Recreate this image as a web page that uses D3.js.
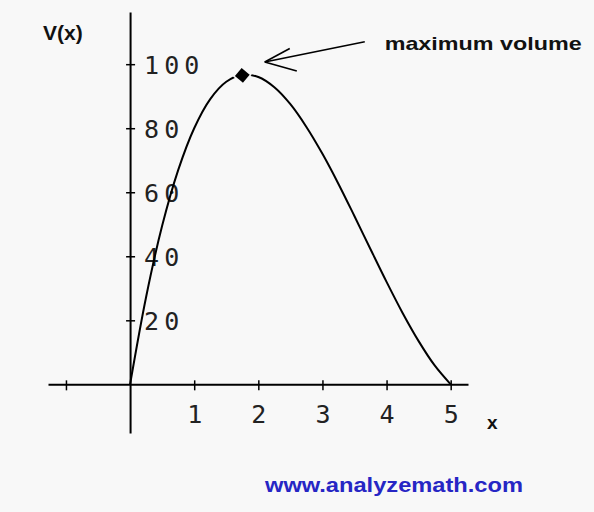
<!DOCTYPE html>
<html>
<head>
<meta charset="utf-8">
<script src="https://cdn.jsdelivr.net/npm/d3@7"></script>
<style>
  html, body { margin: 0; padding: 0; background: #f8f8f8; }
  svg { display: block; }
</style>
</head>
<body>
<svg id="chart" width="594" height="512"></svg>
<script>
// ---- data ----
const xValues = [0, 0.25, 0.5, 0.75, 1, 1.25, 1.5, 1.75, 2, 2.25, 2.5, 2.75, 3, 3.25, 3.5, 3.75, 4, 4.25, 4.5, 4.75, 5];
const vValues = [0, 27.3, 49.5, 66.9, 80, 89.1, 94.5, 96.7, 96, 92.8, 87.5, 80.4, 72, 62.6, 52.5, 42.2, 32, 22.3, 13.5, 5.9, 0];
const maxPoint = [1.75, 96.5];
const xTicks = [-1, 1, 2, 3, 4, 5];
const xTickLabels = ["", "1", "2", "3", "4", "5"];
const yTicks = [20, 40, 60, 80, 100];
const yTickLabels = ["20", "40", "60", "80", "100"];
const xAxisLabel = "x";
const yAxisLabel = "V(x)";
const annotationText = "maximum volume";
const sourceText = "www.analyzemath.com";

// ---- layout ----
const svg = d3.select("#chart");
const x = d3.scaleLinear().domain([-1.28, 5.27]).range([48, 468]);
const y = d3.scaleLinear().domain([-15.2, 116.3]).range([433, 12]);
const x0 = x(0), y0 = y(0);

// x axis
const gx = svg.append("g").attr("transform", `translate(0,${y0})`)
  .call(d3.axisBottom(x).tickValues(xTicks).tickSizeInner(6).tickSizeOuter(0)
    .tickFormat((d, i) => xTickLabels[i]));
gx.select(".domain").attr("stroke", "#000").attr("stroke-width", 2);
gx.selectAll(".tick line").attr("y1", -4).attr("y2", 6).attr("stroke", "#000").attr("stroke-width", 1.5);
gx.selectAll(".tick text")
  .attr("y", 21).attr("dy", "0.71em")
  .attr("font-family", "DejaVu Sans Mono").attr("font-size", 25).attr("fill", "#222");

// y axis
const gy = svg.append("g").attr("transform", `translate(${x0},0)`)
  .call(d3.axisLeft(y).tickValues(yTicks).tickSizeInner(4).tickSizeOuter(0)
    .tickFormat((d, i) => yTickLabels[i]));
gy.select(".domain").attr("stroke", "#000").attr("stroke-width", 2);
gy.selectAll(".tick line").attr("x1", -4).attr("x2", 5).attr("stroke", "#000").attr("stroke-width", 1.5);
gy.selectAll(".tick text")
  .attr("x", 14).attr("dy", "0.36em").attr("text-anchor", "start")
  .attr("font-family", "DejaVu Sans Mono").attr("font-size", 25)
  .attr("letter-spacing", 5).attr("fill", "#222");

// curve
const pts = xValues.map((d, i) => [d, vValues[i]]);
svg.append("path")
  .datum(pts)
  .attr("fill", "none").attr("stroke", "#000").attr("stroke-width", 2)
  .attr("d", d3.line().x(d => x(d[0])).y(d => y(d[1])).curve(d3.curveCatmullRom));

// max marker
svg.append("path")
  .attr("d", d3.symbol().type(d3.symbolSquare).size(110)())
  .attr("transform", `translate(${x(maxPoint[0])},${y(maxPoint[1])}) rotate(40)`)
  .attr("fill", "#000").attr("stroke", "#f8f8f8").attr("stroke-width", 3)
  .attr("paint-order", "stroke");

// annotation arrow (data coordinates)
const tip = [2.10, 100.7], tail = [3.66, 107], h1 = [2.49, 104.9], h2 = [2.60, 97.9];
const seg = (a, b) => svg.append("line")
  .attr("x1", x(a[0])).attr("y1", y(a[1])).attr("x2", x(b[0])).attr("y2", y(b[1]))
  .attr("stroke", "#000").attr("stroke-width", 1.6);
seg(tail, tip); seg(h1, tip); seg(h2, tip);

svg.append("text")
  .attr("x", x(3.97)).attr("y", y(104.5))
  .attr("font-family", "Liberation Sans, Arial, sans-serif").attr("font-weight", "bold")
  .attr("font-size", 19).attr("textLength", 197).attr("lengthAdjust", "spacingAndGlyphs")
  .attr("fill", "#111").text(annotationText);

// axis labels
svg.append("text")
  .attr("x", 43).attr("y", 40)
  .attr("font-family", "Liberation Sans, Arial, sans-serif").attr("font-weight", "bold")
  .attr("font-size", 21).attr("fill", "#111").text(yAxisLabel);
svg.append("text")
  .attr("x", 487).attr("y", 429)
  .attr("font-family", "Liberation Sans, Arial, sans-serif").attr("font-weight", "bold")
  .attr("font-size", 19).attr("fill", "#111").text(xAxisLabel);

// source
svg.append("text")
  .attr("x", 265).attr("y", 492)
  .attr("font-family", "Liberation Sans, Arial, sans-serif").attr("font-weight", "bold")
  .attr("font-size", 20).attr("textLength", 258).attr("lengthAdjust", "spacingAndGlyphs")
  .attr("fill", "#2626c4").text(sourceText);
</script>
</body>
</html>
